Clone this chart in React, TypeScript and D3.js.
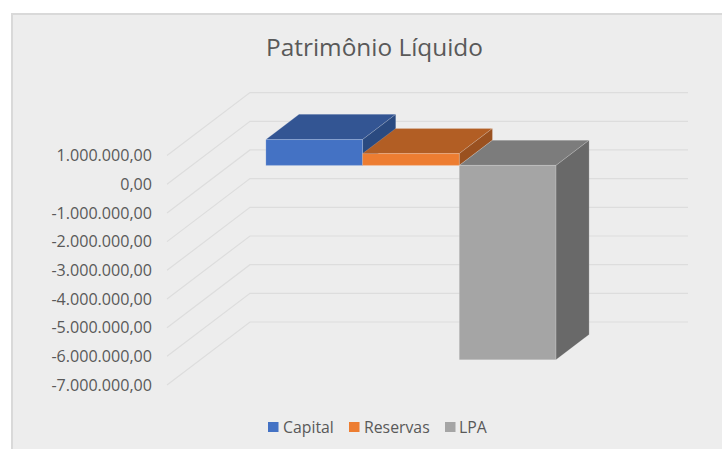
import React from 'react';
import * as d3 from 'd3';

const title = 'Patrimônio Líquido';
const seriesNames = ['Capital', 'Reservas', 'LPA'];
const seriesValues = [900000, 410000, -6780000];
const frontColors = ['#4472C4', '#ED7D31', '#A5A5A5'];
const topColors = ['#335593', '#B25E24', '#7C7C7C'];
const sideColors = ['#2A4A80', '#9A5120', '#696969'];
const tickValues = [1000000, 0, -1000000, -2000000, -3000000, -4000000, -5000000, -6000000, -7000000];
const tickLabels = ['1.000.000,00', '0,00', '-1.000.000,00', '-2.000.000,00', '-3.000.000,00', '-4.000.000,00', '-5.000.000,00', '-6.000.000,00', '-7.000.000,00'];

const FONT = '"Open Sans", sans-serif';
const TEXT = '#595959';

// eixo de valores no plano da frente
const y = d3.scaleLinear().domain([-7000000, 1000000]).range([385, 155.6]);
// profundidade do piso 3D (0 = frente, 1 = fundo)
const depthX = d3.scaleLinear().domain([0, 1]).range([0, 83]);
const depthY = d3.scaleLinear().domain([0, 1]).range([0, -63]);
const FLOOR_LEFT = 167;
const FLOOR_WIDTH = 438;
const BAR_FRONT = 0.3;
const BAR_BACK = 0.7;

const x = d3.scaleBand<string>()
  .domain(seriesNames)
  .range([FLOOR_LEFT + depthX(BAR_FRONT), FLOOR_LEFT + depthX(BAR_FRONT) + FLOOR_WIDTH])
  .paddingInner(0)
  .paddingOuter(0.765);

const px = (xFront: number, depth: number) => xFront + depthX(depth) - depthX(BAR_FRONT);
const py = (value: number, depth: number) => y(value) + depthY(depth);
const line = d3.line();

const legendSwatchX = [268, 349, 445];
const legendTextX = [283, 364, 459];

export default function App() {
  const gridPath = (v: number) =>
    line([
      [FLOOR_LEFT, y(v)],
      [FLOOR_LEFT + depthX(1), y(v) + depthY(1)],
      [FLOOR_LEFT + depthX(1) + FLOOR_WIDTH, y(v) + depthY(1)],
    ]) as string;

  const edge = { stroke: '#ffffff', strokeOpacity: 0.2, strokeWidth: 0.8 };

  return (
    <svg width={722} height={449} style={{ position: 'absolute', left: 0, top: 0 }}>
      <rect x={0} y={0} width={722} height={449} fill="#ffffff" />
      <rect x={12} y={14} width={712} height={437} fill="#EDEDED" stroke="#D9D9D9" strokeWidth={2} />

      <text x={374.5} y={56} textAnchor="middle" fontFamily={FONT} fontSize={24.4} fill={TEXT}>{title}</text>

      {tickValues.map((v) => (
        <path key={v} d={gridPath(v)} fill="none" stroke="#DDDDDD" strokeWidth={1.2} />
      ))}

      {tickValues.map((v, i) => (
        <text key={v} x={152} y={y(v) + 5.8} textAnchor="end" fontFamily={FONT} fontSize={16.1} fill={TEXT}>
          {tickLabels[i]}
        </text>
      ))}

      {seriesNames.map((name, i) => {
        const x0 = x(name) as number;
        const x1 = x0 + x.bandwidth();
        const hi = Math.max(seriesValues[i], 0);
        const lo = Math.min(seriesValues[i], 0);
        const f = BAR_FRONT;
        const b = BAR_BACK;
        const top = line([[px(x0, f), py(hi, f)], [px(x1, f), py(hi, f)], [px(x1, b), py(hi, b)], [px(x0, b), py(hi, b)]]) + 'Z';
        const side = line([[px(x1, f), py(hi, f)], [px(x1, b), py(hi, b)], [px(x1, b), py(lo, b)], [px(x1, f), py(lo, f)]]) + 'Z';
        const front = line([[px(x0, f), py(hi, f)], [px(x1, f), py(hi, f)], [px(x1, f), py(lo, f)], [px(x0, f), py(lo, f)]]) + 'Z';
        return (
          <g key={name}>
            <path d={top} fill={topColors[i]} {...edge} />
            <path d={side} fill={sideColors[i]} {...edge} />
            <path d={front} fill={frontColors[i]} {...edge} />
          </g>
        );
      })}

      {seriesNames.map((name, i) => (
        <g key={name}>
          <rect x={legendSwatchX[i]} y={422} width={10.5} height={10} fill={frontColors[i]} />
          <text x={legendTextX[i]} y={432.6} fontFamily={FONT} fontSize={15.8} fill={TEXT}>{name}</text>
        </g>
      ))}
    </svg>
  );
}
